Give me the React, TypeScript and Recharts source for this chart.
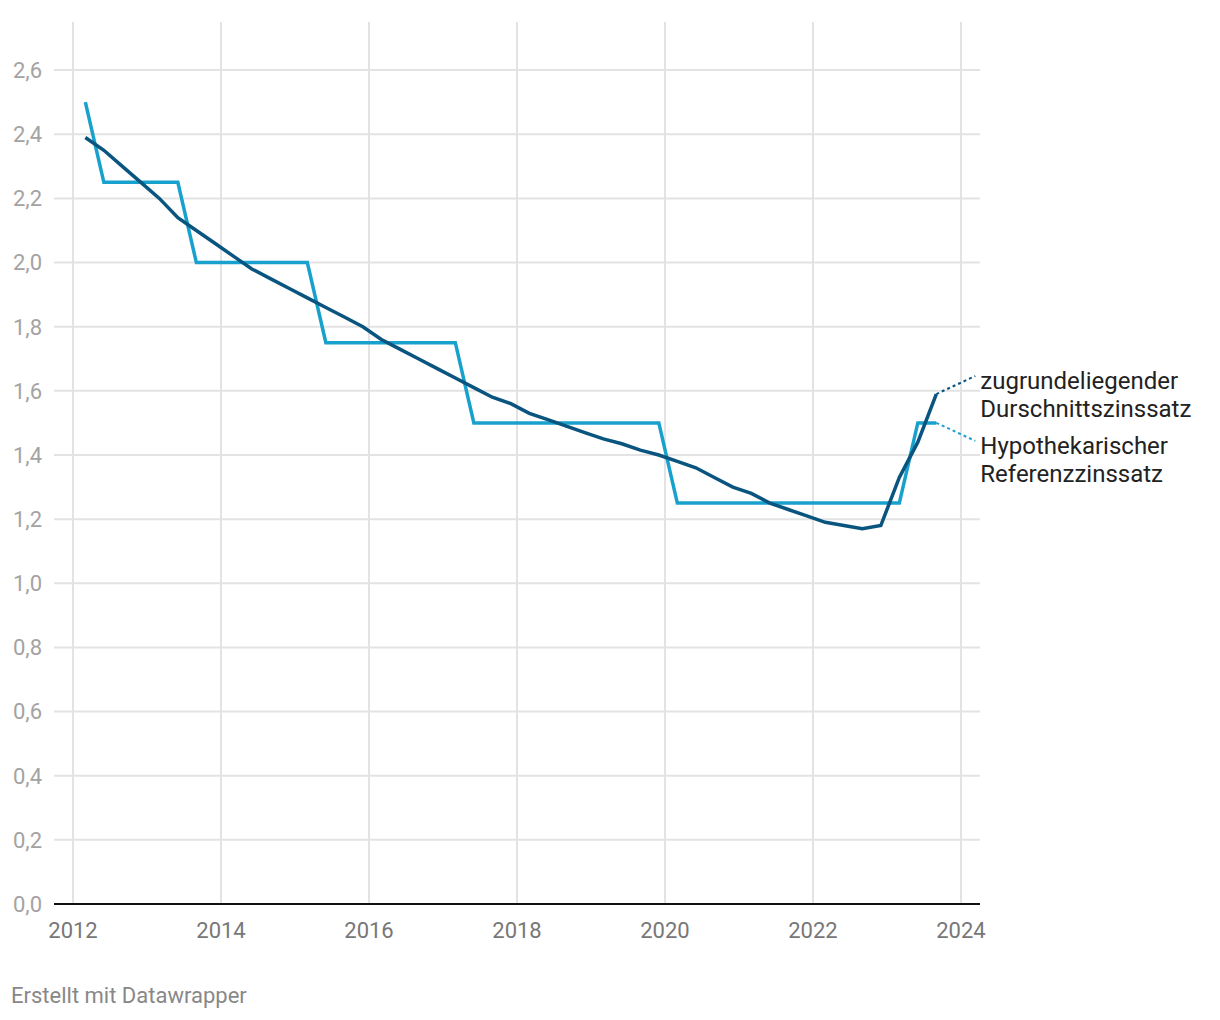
import React from "react";
import { LineChart, Line, XAxis, YAxis, CartesianGrid } from "recharts";

const dates = [
  "2012-03", "2012-06", "2012-09", "2012-12",
  "2013-03", "2013-06", "2013-09", "2013-12",
  "2014-03", "2014-06", "2014-09", "2014-12",
  "2015-03", "2015-06", "2015-09", "2015-12",
  "2016-03", "2016-06", "2016-09", "2016-12",
  "2017-03", "2017-06", "2017-09", "2017-12",
  "2018-03", "2018-06", "2018-09", "2018-12",
  "2019-03", "2019-06", "2019-09", "2019-12",
  "2020-03", "2020-06", "2020-09", "2020-12",
  "2021-03", "2021-06", "2021-09", "2021-12",
  "2022-03", "2022-06", "2022-09", "2022-12",
  "2023-03", "2023-06", "2023-09",
];

const referenzzinssatz = [
  2.5, 2.25, 2.25, 2.25, 2.25, 2.25,
  2.0, 2.0, 2.0, 2.0, 2.0, 2.0, 2.0,
  1.75, 1.75, 1.75, 1.75, 1.75, 1.75, 1.75, 1.75,
  1.5, 1.5, 1.5, 1.5, 1.5, 1.5, 1.5, 1.5, 1.5, 1.5, 1.5,
  1.25, 1.25, 1.25, 1.25, 1.25, 1.25, 1.25, 1.25, 1.25, 1.25, 1.25, 1.25, 1.25,
  1.5, 1.5,
];

const durchschnittszinssatz = [
  2.39, 2.35, 2.30, 2.25, 2.20, 2.14, 2.10, 2.06, 2.02, 1.98,
  1.95, 1.92, 1.89, 1.86, 1.83, 1.80, 1.76, 1.73, 1.70, 1.67,
  1.64, 1.61, 1.58, 1.56, 1.53, 1.51, 1.49, 1.47, 1.45, 1.435,
  1.415, 1.40, 1.38, 1.36, 1.33, 1.30, 1.28, 1.25, 1.23, 1.21,
  1.19, 1.18, 1.17, 1.18, 1.33, 1.44, 1.59,
];

const xTicks = [2012, 2014, 2016, 2018, 2020, 2022, 2024];
const yTicks = [0, 0.2, 0.4, 0.6, 0.8, 1.0, 1.2, 1.4, 1.6, 1.8, 2.0, 2.2, 2.4, 2.6];

const seriesLabels = {
  durchschnitt: ["zugrundeliegender", "Durschnittszinssatz"],
  referenz: ["Hypothekarischer", "Referenzzinssatz"],
};

const LIGHT = "#18a1cd";
const DARK = "#09557f";

const X_DOMAIN = [2011.743, 2024.257];
const Y_DOMAIN = [0, 2.75];

const data = dates.map((d, i) => {
  const [y, m] = d.split("-").map(Number);
  return {
    t: y + (m - 1) / 12,
    ref: referenzzinssatz[i],
    avg: durchschnittszinssatz[i],
  };
});

const lastIndex = data.length - 1;

const makeLabel = (color: string, lines: string[], up: boolean) => (props: any) => {
  const { x, y, index } = props;
  if (index !== lastIndex || x == null || y == null) return <g />;
  const ex = x + 39;
  const ey = up ? y - 18 : y + 18;
  const tx = x + 44;
  const y1 = up ? y - 13 : y + 23;
  return (
    <g>
      <line x1={x} y1={y} x2={ex} y2={ey} stroke={color} strokeWidth={2} strokeDasharray="3 3" />
      <text x={tx} y={y1} dominantBaseline="central" fill="#222" fontSize={24} fontFamily="Roboto">
        {lines[0]}
      </text>
      <text x={tx} y={y1 + 28} dominantBaseline="central" fill="#222" fontSize={24} fontFamily="Roboto">
        {lines[1]}
      </text>
    </g>
  );
};

const hGen = (p: any) => {
  const { offset } = p;
  const top = offset.top;
  const h = offset.height;
  return yTicks.map((v) => top + h - ((v - Y_DOMAIN[0]) / (Y_DOMAIN[1] - Y_DOMAIN[0])) * h);
};

const vGen = (p: any) => {
  const { offset } = p;
  const left = offset.left;
  const w = offset.width;
  return xTicks.map((v) => left + ((v - X_DOMAIN[0]) / (X_DOMAIN[1] - X_DOMAIN[0])) * w);
};

export default function App() {
  return (
    <div style={{ position: "absolute", left: 0, top: 0, width: 1220, height: 1020, background: "#fff", fontFamily: "Roboto" }}>
      <LineChart
        width={1220}
        height={1020}
        data={data}
        margin={{ top: 22, right: 240, left: 0, bottom: 76 }}
        style={{ fontFamily: "Roboto" }}
      >
        <CartesianGrid
          stroke="#e3e3e3"
          strokeWidth={2}
          horizontalCoordinatesGenerator={hGen}
          verticalCoordinatesGenerator={vGen}
        />
        <XAxis
          dataKey="t"
          type="number"
          domain={X_DOMAIN}
          ticks={xTicks}
          allowDataOverflow
          height={40}
          axisLine={{ stroke: "#111", strokeWidth: 2 }}
          tickLine={false}
          tickMargin={12}
          tick={{ fill: "#777", fontSize: 22 }}
          tickFormatter={(v: number) => String(Math.round(v))}
        />
        <YAxis
          type="number"
          domain={Y_DOMAIN}
          ticks={yTicks}
          allowDataOverflow
          width={54}
          axisLine={false}
          tickLine={false}
          tickSize={8}
          tickMargin={4}
          tick={{ fill: "#a3a3a3", fontSize: 22 }}
          tickFormatter={(v: number) => v.toFixed(1).replace(".", ",")}
        />
        <Line
          type="linear"
          dataKey="ref"
          stroke={LIGHT}
          strokeWidth={3.5}
          dot={false}
          isAnimationActive={false}
          label={makeLabel(LIGHT, seriesLabels.referenz, false)}
        />
        <Line
          type="linear"
          dataKey="avg"
          stroke={DARK}
          strokeWidth={3.5}
          dot={false}
          isAnimationActive={false}
          label={makeLabel(DARK, seriesLabels.durchschnitt, true)}
        />
      </LineChart>
      <div
        style={{
          position: "absolute",
          left: 11,
          top: 983,
          fontSize: 22,
          color: "#888",
          fontFamily: "Roboto",
        }}
      >
        Erstellt mit Datawrapper
      </div>
    </div>
  );
}
